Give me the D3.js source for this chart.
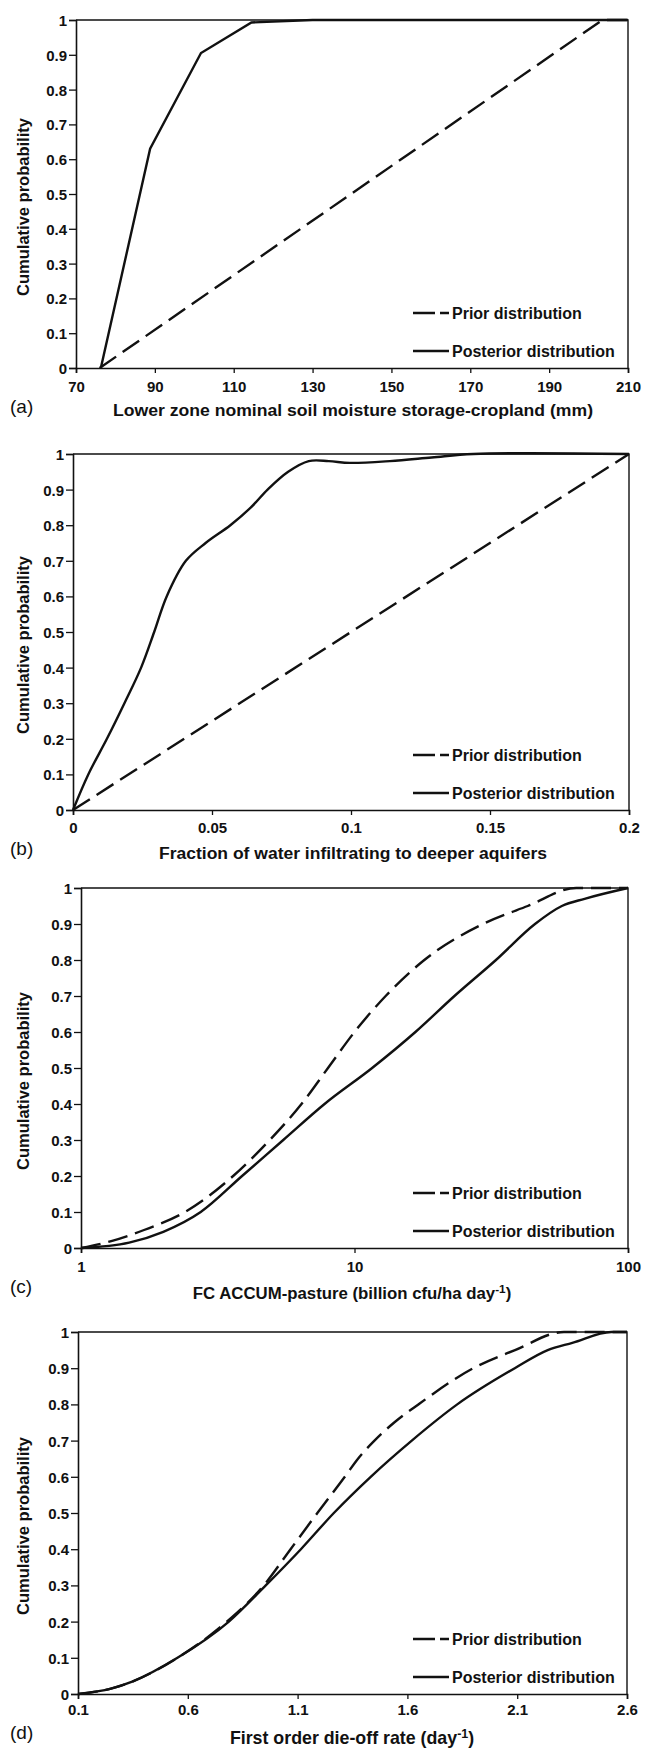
<!DOCTYPE html>
<html>
<head>
<meta charset="utf-8">
<script src="https://cdn.jsdelivr.net/npm/d3@7"></script>
<style>
  body { margin: 0; background: #fff; }
  svg { display: block; font-family: "Liberation Sans", Arial, sans-serif; }
</style>
</head>
<body>
<svg width="646" height="1748"></svg>
<script>
// common y ticks
const yTicks = [0, 0.1, 0.2, 0.3, 0.4, 0.5, 0.6, 0.7, 0.8, 0.9, 1];

// (a) lower zone nominal soil moisture storage
const aTicks = [70, 90, 110, 130, 150, 170, 190, 210];
const aPriorX = [76, 203.5, 210];
const aPriorY = [0, 1, 1];
const aPostX = [76.3, 88.8, 101.7, 114.5, 130, 210];
const aPostY = [0, 0.63, 0.905, 0.993, 1, 1];

// (b) fraction of water infiltrating
const bTicks = [0, 0.05, 0.1, 0.15, 0.2];
const bPriorX = [0, 0.2];
const bPriorY = [0, 1];
const bPostX = [0, 0.0055, 0.0122, 0.0185, 0.0245, 0.0292, 0.0337, 0.0406, 0.0477, 0.0566, 0.064, 0.070, 0.0774, 0.0848, 0.092, 0.0996, 0.114, 0.129, 0.144, 0.2];
const bPostY = [0, 0.1, 0.2, 0.3, 0.4, 0.5, 0.6, 0.7, 0.75, 0.8, 0.85, 0.9, 0.95, 0.98, 0.98, 0.975, 0.98, 0.99, 1, 1];

// (c) FC ACCUM-pasture (log axis)
const cTicks = [1, 10, 100];
const cPriorX = [1, 1.3, 1.7, 2.4, 3.6, 4.9, 6.4, 8.0, 10.0, 13.0, 18.0, 29.5, 43.0, 64.7, 100];
const cPriorY = [0, 0.02, 0.05, 0.1, 0.2, 0.3, 0.4, 0.5, 0.6, 0.7, 0.8, 0.9, 0.95, 1, 1];
const cPostX = [1, 1.5, 2, 2.74, 3.88, 5.49, 7.77, 11.6, 16.7, 23.2, 32.9, 45.7, 57.3, 69.4, 100];
const cPostY = [0, 0.015, 0.045, 0.1, 0.2, 0.3, 0.4, 0.5, 0.6, 0.7, 0.8, 0.9, 0.95, 0.97, 1];

// (d) first order die-off rate
const dTicks = [0.1, 0.6, 1.1, 1.6, 2.1, 2.6];
const dPriorX = [0.1, 0.25, 0.35, 0.553, 0.778, 0.946, 1.068, 1.19, 1.315, 1.375, 1.45, 1.54, 1.65, 1.9, 2.09, 2.313, 2.6];
const dPriorY = [0, 0.015, 0.035, 0.1, 0.2, 0.3, 0.4, 0.5, 0.6, 0.65, 0.7, 0.75, 0.8, 0.9, 0.95, 1, 1];
const dPostX = [0.1, 0.25, 0.35, 0.553, 0.787, 0.955, 1.115, 1.265, 1.433, 1.62, 1.827, 2.089, 2.239, 2.351, 2.529, 2.6];
const dPostY = [0, 0.015, 0.035, 0.1, 0.2, 0.3, 0.4, 0.5, 0.6, 0.7, 0.8, 0.9, 0.95, 0.97, 1, 1];

const svg = d3.select("svg");
const ink = "#111";

const panels = [
  {letter: "(a)", left: 76, right: 628, top: 20, bottom: 368, log: false, domain: [70, 210], ticks: aTicks,
   prior: [aPriorX, aPriorY], post: [aPostX, aPostY], curve: d3.curveLinear, tickDy: 24, titleDy: 48,
   title: ["Lower zone nominal soil moisture storage-cropland (mm)"], titleW: 480, titleX: 353, titleSize: 16},
  {letter: "(b)", left: 73, right: 629, top: 454, bottom: 810, log: false, domain: [0, 0.2], ticks: bTicks,
   prior: [bPriorX, bPriorY], post: [bPostX, bPostY], curve: d3.curveCatmullRom.alpha(0.5), tickDy: 23, titleDy: 49,
   title: ["Fraction of water infiltrating to deeper aquifers"], titleW: 388, titleX: 353, titleSize: 16},
  {letter: "(c)", left: 81, right: 628, top: 888, bottom: 1248, log: true, domain: [1, 100], ticks: cTicks,
   prior: [cPriorX, cPriorY], post: [cPostX, cPostY], curve: d3.curveMonotoneX, tickDy: 24, titleDy: 51,
   title: ["FC ACCUM-pasture (billion cfu/ha day", "-1", ")"], titleX: 352, titleSize: 16.8},
  {letter: "(d)", left: 78, right: 627, top: 1332, bottom: 1694, log: false, domain: [0.1, 2.6], ticks: dTicks,
   prior: [dPriorX, dPriorY], post: [dPostX, dPostY], curve: d3.curveMonotoneX, tickDy: 21, titleDy: 50,
   title: ["First order die-off rate (day", "-1", ")"], titleX: 352, titleSize: 17.8}
];

function drawPanel(p) {
  const x = (p.log ? d3.scaleLog() : d3.scaleLinear()).domain(p.domain).range([p.left, p.right]);
  const y = d3.scaleLinear().domain([0, 1]).range([p.bottom, p.top]);
  const g = svg.append("g");

  // frame (top and right)
  g.append("path")
    .attr("d", `M${p.left},${p.top}H${p.right}V${p.bottom}`)
    .attr("fill", "none").attr("stroke", ink).attr("stroke-width", 1.4);

  // y axis
  const yAxis = g.append("g").attr("transform", `translate(${p.left},0)`)
    .call(d3.axisLeft(y).tickValues(yTicks).tickFormat(d3.format("")).tickSizeOuter(0).tickSize(7).tickPadding(2));
  // x axis
  const xAxis = g.append("g").attr("transform", `translate(0,${p.bottom})`)
    .call(d3.axisBottom(x).tickValues(p.ticks).tickFormat(d => String(d)).tickSizeOuter(0).tickSize(5));

  [yAxis, xAxis].forEach(ax => {
    ax.select(".domain").attr("stroke", ink).attr("stroke-width", 1.6);
    ax.selectAll(".tick line").attr("stroke", ink).attr("stroke-width", 1.3);
    ax.selectAll("text").attr("fill", ink).attr("font-size", 15).attr("font-weight", "bold")
      .attr("font-family", "'Liberation Sans', Arial, sans-serif");
  });
  yAxis.selectAll("text").attr("dy", "0.36em");
  xAxis.selectAll("text").attr("y", p.tickDy).attr("dy", 0);

  // curves
  const line = d3.line().x(d => x(d[0])).y(d => y(d[1])).curve(p.curve);
  const priorPts = p.prior[0].map((v, i) => [v, p.prior[1][i]]);
  const postPts = p.post[0].map((v, i) => [v, p.post[1][i]]);
  g.append("path").attr("d", line(priorPts)).attr("fill", "none").attr("stroke", ink)
    .attr("stroke-width", 2.4).attr("stroke-dasharray", "20,8");
  g.append("path").attr("d", line(postPts)).attr("fill", "none").attr("stroke", ink)
    .attr("stroke-width", 2.4);

  // legend
  const ly1 = p.bottom - 55, ly2 = p.bottom - 17;
  g.append("line").attr("x1", 413).attr("x2", 449).attr("y1", ly1).attr("y2", ly1)
    .attr("stroke", ink).attr("stroke-width", 2.4).attr("stroke-dasharray", "22,5");
  g.append("line").attr("x1", 413).attr("x2", 449).attr("y1", ly2).attr("y2", ly2)
    .attr("stroke", ink).attr("stroke-width", 2.4);
  g.append("text").attr("x", 452).attr("y", ly1).attr("dy", "0.36em")
    .attr("font-size", 16).attr("font-weight", "bold").attr("fill", ink).text("Prior distribution");
  g.append("text").attr("x", 452).attr("y", ly2).attr("dy", "0.36em")
    .attr("font-size", 16).attr("font-weight", "bold").attr("fill", ink).text("Posterior distribution");

  // y title
  g.append("text")
    .attr("transform", `translate(23,${(p.top + p.bottom) / 2 + 13}) rotate(-90)`)
    .attr("text-anchor", "middle").attr("dy", "0.36em")
    .attr("font-size", 16.5).attr("font-weight", "bold").attr("fill", ink)
    .text("Cumulative probability");

  // x title
  const t = g.append("text").attr("x", p.titleX).attr("y", p.bottom + p.titleDy)
    .attr("text-anchor", "middle").attr("font-size", p.titleSize).attr("font-weight", "bold").attr("fill", ink);
  if (p.title.length === 1) {
    t.text(p.title[0]).attr("textLength", p.titleW).attr("lengthAdjust", "spacingAndGlyphs");
  } else {
    t.append("tspan").text(p.title[0]);
    t.append("tspan").attr("dy", -6).attr("font-size", p.titleSize * 0.7).text(p.title[1]);
    t.append("tspan").attr("dy", 6).text(p.title[2]);
  }

  // panel letter
  g.append("text").attr("x", 10).attr("y", p.bottom + 45)
    .attr("font-size", 19).attr("fill", ink).text(p.letter);
}

panels.forEach(drawPanel);
</script>
</body>
</html>
